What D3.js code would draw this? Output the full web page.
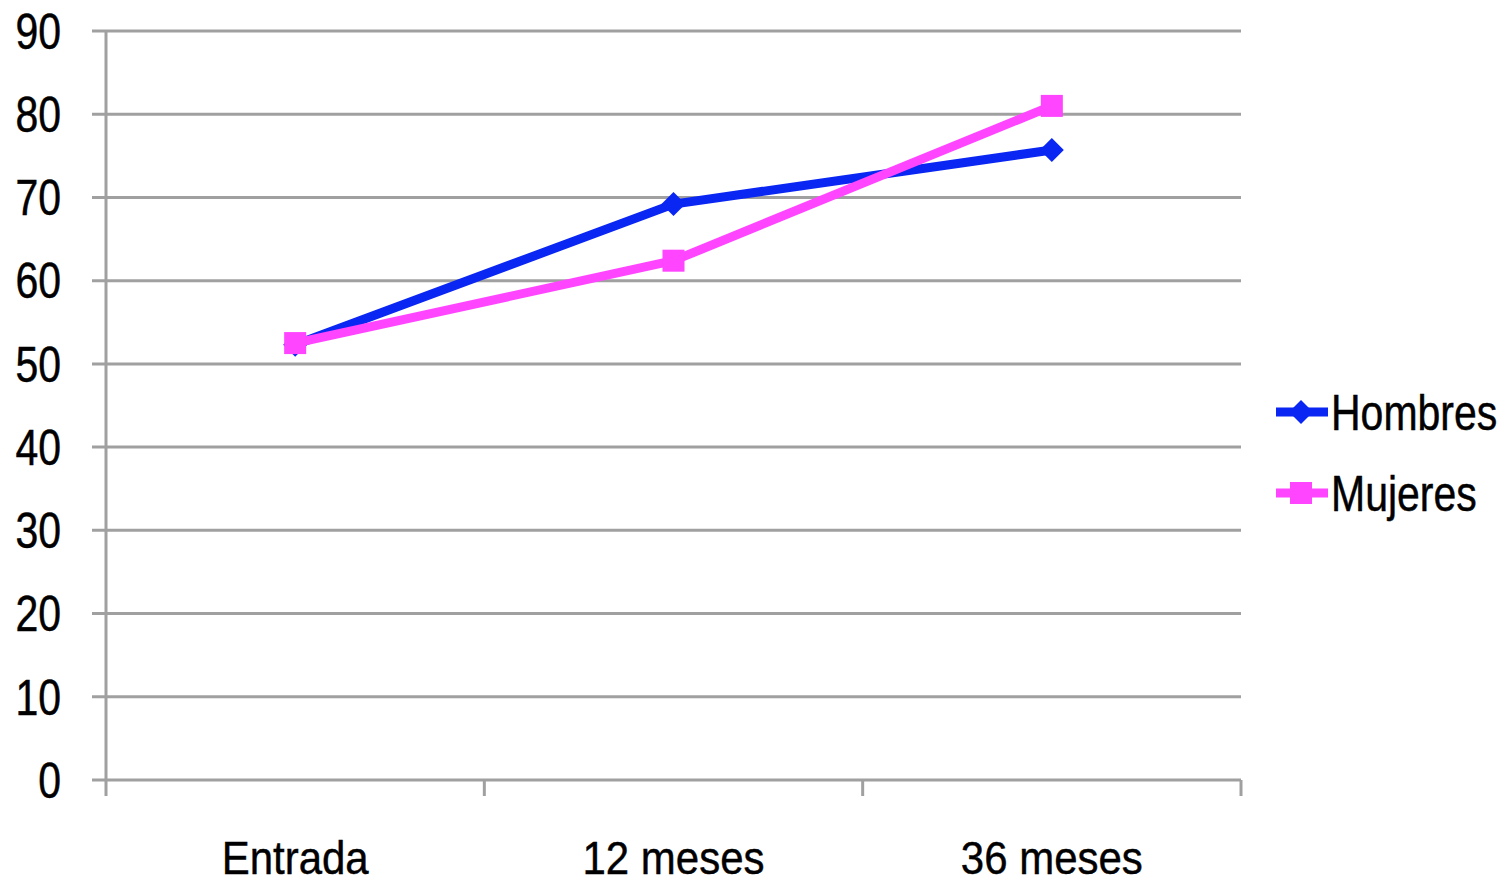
<!DOCTYPE html>
<html lang="es">
<head>
    <meta charset="UTF-8">
    <title>Hombres y Mujeres</title>
    <script src="https://d3js.org/d3.v7.min.js"></script>
    <style>
        body { margin: 0; background: #fff; }
        text { font-family: "Liberation Sans", Arial, sans-serif; fill: #000; stroke: #000; stroke-width: 0.4px; }
    </style>
</head>
<body>
    <div id="chart"></div>
    <script>
        const width = 1505;
        const height = 883;

        // data
        const categories = ["Entrada", "12 meses", "36 meses"];
        const hombres = [52.3, 69.2, 75.7];
        const mujeres = [52.5, 62.4, 81.0];
        const yTicks = [0, 10, 20, 30, 40, 50, 60, 70, 80, 90];

        const series = [
            { name: "Hombres", values: hombres, color: "#0a26f2", marker: "diamond" },
            { name: "Mujeres", values: mujeres, color: "#ff45ff", marker: "square" }
        ];

        const plotLeft = 106, plotRight = 1241, plotTop = 31, plotBottom = 780;

        const svg = d3.select("#chart").append("svg")
            .attr("width", width)
            .attr("height", height);

        const x = d3.scaleBand().domain(categories).range([plotLeft, plotRight]);
        const y = d3.scaleLinear().domain([0, 90]).range([plotBottom, plotTop]);
        const cx = d => x(d) + x.bandwidth() / 2;

        const grey = "#a0a0a0";

        // gridlines
        svg.append("g").selectAll("line")
            .data(yTicks)
            .enter().append("line")
            .attr("x1", plotLeft - 14).attr("x2", plotRight)
            .attr("y1", d => y(d)).attr("y2", d => y(d))
            .attr("stroke", grey).attr("stroke-width", 3);

        // y axis line
        svg.append("line")
            .attr("x1", plotLeft).attr("x2", plotLeft)
            .attr("y1", plotTop).attr("y2", plotBottom + 16)
            .attr("stroke", grey).attr("stroke-width", 3);

        // bottom tick marks at band edges
        const edges = categories.map(d => x(d)).concat([plotRight]);
        svg.append("g").selectAll("line")
            .data(edges.slice(1))
            .enter().append("line")
            .attr("x1", d => d).attr("x2", d => d)
            .attr("y1", plotBottom).attr("y2", plotBottom + 16)
            .attr("stroke", grey).attr("stroke-width", 3);

        // y labels
        svg.append("g").selectAll("text")
            .data(yTicks)
            .enter().append("text")
            .attr("transform", d => `translate(61,${y(d)}) scale(1,1.2)`)
            .attr("text-anchor", "end")
            .attr("dy", "0.36em")
            .style("font-size", "41px")
            .text(d => d);

        // x labels
        svg.append("g").selectAll("text")
            .data(categories)
            .enter().append("text")
            .attr("transform", d => `translate(${cx(d)},874) scale(1,1.12)`)
            .attr("text-anchor", "middle")
            .style("font-size", "42px")
            .text(d => d);

        const line = d3.line()
            .x((d, i) => cx(categories[i]))
            .y(d => y(d));

        function drawMarker(g, type, color, px, py) {
            if (type === "square") {
                g.append("rect")
                    .attr("x", px - 11).attr("y", py - 11)
                    .attr("width", 22).attr("height", 22)
                    .attr("fill", color);
            } else {
                g.append("path")
                    .attr("d", `M${px},${py - 12}L${px + 12},${py}L${px},${py + 12}L${px - 12},${py}Z`)
                    .attr("fill", color);
            }
        }

        series.forEach(s => {
            const g = svg.append("g");
            g.append("path")
                .datum(s.values)
                .attr("d", line)
                .attr("fill", "none")
                .attr("stroke", s.color)
                .attr("stroke-width", 9)
                .attr("stroke-linejoin", "round");
            s.values.forEach((v, i) => drawMarker(g, s.marker, s.color, cx(categories[i]), y(v)));
        });

        // legend
        series.forEach((s, i) => {
            const ly = 412 + i * 81;
            const g = svg.append("g");
            g.append("line")
                .attr("x1", 1276).attr("x2", 1328)
                .attr("y1", ly).attr("y2", ly)
                .attr("stroke", s.color).attr("stroke-width", 9);
            drawMarker(g, s.marker, s.color, 1301, ly);
            g.append("text")
                .attr("transform", `translate(1331,${ly}) scale(1,1.2)`)
                .attr("dy", "0.36em")
                .style("font-size", "41px")
                .text(s.name);
        });
    </script>
</body>
</html>
